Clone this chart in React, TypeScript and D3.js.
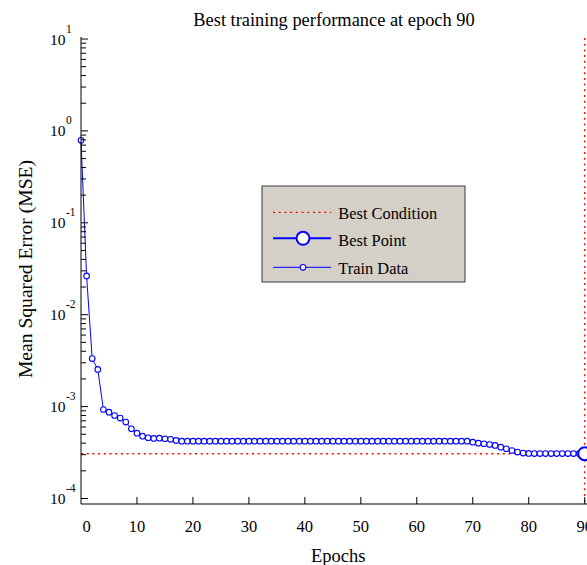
import React from "react";
import * as d3 from "d3";

// ---- data ----
const epochs: number[] = d3.range(0, 91);
const trainMSE: number[] = [
  0.79, 0.0264, 0.00333, 0.00254, 9.3e-4, 8.7e-4, 8.0e-4, 7.5e-4, 6.78e-4, 5.74e-4,
  5.14e-4, 4.77e-4, 4.58e-4, 4.5e-4, 4.53e-4, 4.47e-4, 4.4e-4, 4.29e-4, 4.21e-4, 4.21e-4,
  4.21e-4, 4.21e-4, 4.21e-4, 4.21e-4, 4.21e-4, 4.21e-4, 4.21e-4, 4.21e-4, 4.21e-4, 4.21e-4,
  4.21e-4, 4.21e-4, 4.21e-4, 4.21e-4, 4.21e-4, 4.21e-4, 4.21e-4, 4.21e-4, 4.21e-4, 4.21e-4,
  4.21e-4, 4.21e-4, 4.21e-4, 4.21e-4, 4.21e-4, 4.21e-4, 4.21e-4, 4.21e-4, 4.21e-4, 4.21e-4,
  4.21e-4, 4.21e-4, 4.21e-4, 4.21e-4, 4.21e-4, 4.21e-4, 4.21e-4, 4.21e-4, 4.21e-4, 4.21e-4,
  4.21e-4, 4.21e-4, 4.21e-4, 4.21e-4, 4.21e-4, 4.21e-4, 4.21e-4, 4.21e-4, 4.21e-4, 4.21e-4,
  4.1e-4, 4.0e-4, 3.94e-4, 3.87e-4, 3.78e-4, 3.62e-4, 3.48e-4, 3.33e-4, 3.2e-4, 3.12e-4,
  3.09e-4, 3.08e-4, 3.08e-4, 3.08e-4, 3.08e-4, 3.08e-4, 3.08e-4, 3.08e-4, 3.08e-4, 3.08e-4,
  3.07e-4,
];
const bestEpoch = 90;
const bestMSE = 3.07e-4;
const xTicks: number[] = [0, 10, 20, 30, 40, 50, 60, 70, 80, 90];
const yDecades: number[] = [-4, -3, -2, -1, 0, 1];
const titleText = "Best training performance at epoch 90";
const xLabelText = "Epochs";
const yLabelText = "Mean Squared Error (MSE)";
const legendLabels: string[] = ["Best Condition", "Best Point", "Train Data"];

// ---- layout ----
const W = 587;
const H = 565;
const left = 81;
const rightAtMax = 584.7;
const topY = 39;
const bottomY = 498.5;
const plotBottom = 504;
const FONT = "'Liberation Serif', 'Times New Roman', serif";
const BLUE = "#0000ff";
const RED = "#ff0000";

export default function App() {
  const x = d3.scaleLinear().domain([0, 90]).range([left, rightAtMax]);
  const y = d3.scaleLog().domain([1e-4, 10]).range([bottomY, topY]);

  const line = d3
    .line<number>()
    .x((_, i) => x(epochs[i]))
    .y((d) => y(d));

  const minorTicks: number[] = [];
  yDecades.slice(0, -1).forEach((e) => {
    for (let k = 2; k <= 9; k++) minorTicks.push(k * Math.pow(10, e));
  });

  const legendX = 262;
  const legendY = 186;
  const legendW = 203;
  const legendH = 96;
  const lx1 = 273;
  const lx2 = 331;
  const lxm = 303;
  const rowY = [212.3, 238.3, 267.3];
  const rowBase = [219, 245.5, 273.5];

  return (
    <svg
      width={W}
      height={H}
      style={{ position: "absolute", left: 0, top: 0, background: "#fff" }}
      fontFamily={FONT}
    >
      <rect x={0} y={0} width={W} height={H} fill="#fff" />
      {/* title */}
      <text x={334} y={26} textAnchor="middle" fontSize={18.4} fill="#000">
        {titleText}
      </text>

      {/* best condition lines */}
      <line
        x1={x(0)}
        x2={x(bestEpoch)}
        y1={y(bestMSE)}
        y2={y(bestMSE)}
        stroke={RED}
        strokeWidth={1.3}
        strokeDasharray="2,3.7"
      />
      <line
        x1={x(bestEpoch)}
        x2={x(bestEpoch)}
        y1={38}
        y2={plotBottom}
        stroke={RED}
        strokeWidth={1.3}
        strokeDasharray="2,3.7"
      />

      {/* train data */}
      <path d={line(trainMSE) || ""} fill="none" stroke={BLUE} strokeWidth={1} />
      {trainMSE.map((v, i) => (
        <circle
          key={i}
          cx={x(epochs[i])}
          cy={y(v)}
          r={2.8}
          fill="#fff"
          stroke={BLUE}
          strokeWidth={1.1}
        />
      ))}
      {/* best point */}
      <circle cx={x(bestEpoch)} cy={y(bestMSE)} r={6.5} fill="#fff" stroke={BLUE} strokeWidth={2} />

      {/* axes */}
      <line x1={left} x2={W} y1={plotBottom} y2={plotBottom} stroke="#000" strokeWidth={1} />
      <line x1={left} x2={left} y1={37} y2={plotBottom} stroke="#000" strokeWidth={1} />
      {xTicks.map((t) => (
        <g key={"xt" + t}>
          {t > 0 && (
            <line x1={x(t)} x2={x(t)} y1={plotBottom} y2={plotBottom - 7} stroke="#000" strokeWidth={1} />
          )}
          <text
            x={x(t) + (t === 0 ? 5.5 : 0)}
            y={532}
            textAnchor="middle"
            fontSize={16.5}
            fill="#000"
          >
            {String(t)}
          </text>
        </g>
      ))}
      {yDecades.map((e) => {
        const yy = y(Math.pow(10, e));
        return (
          <g key={"yt" + e}>
            <line x1={left} x2={left + 7} y1={yy} y2={yy} stroke="#000" strokeWidth={1} />
            <text x={50} y={yy + 5.5} fontSize={15.5} fill="#000">
              10
            </text>
            <text x={66} y={yy - 6.5} fontSize={11.5} fill="#000">
              {String(e)}
            </text>
          </g>
        );
      })}
      {minorTicks.map((v, i) => (
        <line
          key={"mt" + i}
          x1={left}
          x2={left + 5}
          y1={y(v)}
          y2={y(v)}
          stroke="#000"
          strokeWidth={1}
        />
      ))}

      {/* axis labels */}
      <text x={338.3} y={562} textAnchor="middle" fontSize={18.5} fill="#000">
        {xLabelText}
      </text>
      <text
        transform={`translate(31.5,269) rotate(-90)`}
        textAnchor="middle"
        fontSize={19.6}
        fill="#000"
      >
        {yLabelText}
      </text>

      {/* legend */}
      <rect
        x={legendX}
        y={legendY}
        width={legendW}
        height={legendH}
        fill="#d4d0c8"
        stroke="#3a3a3a"
        strokeWidth={1}
      />
      <line
        x1={lx1}
        x2={lx2}
        y1={rowY[0]}
        y2={rowY[0]}
        stroke={RED}
        strokeWidth={1.3}
        strokeDasharray="2,3.7"
      />
      <line x1={lx1} x2={lx2} y1={rowY[1]} y2={rowY[1]} stroke={BLUE} strokeWidth={2} />
      <circle cx={lxm} cy={rowY[1]} r={6.5} fill="#fff" stroke={BLUE} strokeWidth={2} />
      <line x1={lx1} x2={lx2} y1={rowY[2]} y2={rowY[2]} stroke={BLUE} strokeWidth={1} />
      <circle cx={lxm} cy={rowY[2]} r={2.8} fill="#fff" stroke={BLUE} strokeWidth={1.1} />
      {legendLabels.map((l, i) => (
        <text key={l} x={338.3} y={rowBase[i]} fontSize={16.4} fill="#000">
          {l}
        </text>
      ))}
    </svg>
  );
}
